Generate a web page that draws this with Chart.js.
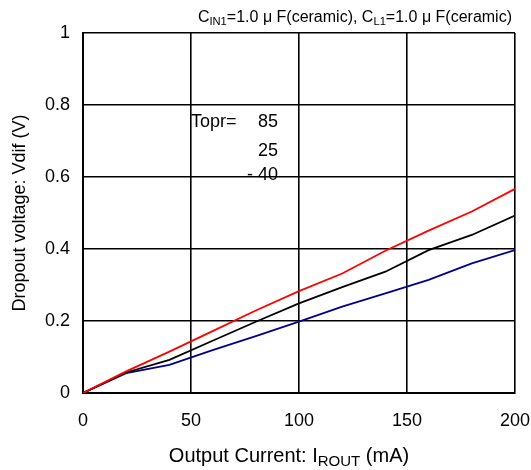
<!DOCTYPE html>
<html lang="en">
<head>
    <meta charset="UTF-8">
    <title>Dropout Voltage vs Output Current</title>
    <script src="https://cdn.jsdelivr.net/npm/chart.js"></script>
    <style>
        html, body { margin: 0; padding: 0; background: #fff; }
        #wrap { width: 531px; height: 470px; }
    </style>
</head>
<body>
<div id="wrap"><canvas id="dropoutChart" width="531" height="470"></canvas></div>
<script>
    // Output current (mA)
    const currents = [0, 20, 40, 60, 80, 100, 120, 140, 160, 180, 200];
    // Dropout voltage (V) per temperature
    const vdif85 = [0, 0.060, 0.115, 0.172, 0.229, 0.283, 0.332, 0.395, 0.451, 0.504, 0.567];
    const vdif25 = [0, 0.057, 0.092, 0.145, 0.198, 0.249, 0.294, 0.337, 0.397, 0.439, 0.493];
    const vdifM40 = [0, 0.055, 0.078, 0.119, 0.158, 0.198, 0.240, 0.277, 0.314, 0.360, 0.397];
    const xTicks = [0, 50, 100, 150, 200];
    const yTicks = [0, 0.2, 0.4, 0.6, 0.8, 1];

    const FONT = '"Liberation Sans", Arial, sans-serif';

    // draws text with subscripts: parts = [[text, isSub], ...]
    function drawRich(ctx, parts, x, y, size, align, subScale) {
        const sub = subScale || 0.7;
        let total = 0;
        parts.forEach(p => {
            ctx.font = (p[1] ? size * sub : size) + 'px ' + FONT;
            total += ctx.measureText(p[0]).width;
        });
        let cx = align === 'right' ? x - total : (align === 'center' ? x - total / 2 : x);
        ctx.textAlign = 'left';
        ctx.textBaseline = 'alphabetic';
        parts.forEach(p => {
            ctx.font = (p[1] ? size * sub : size) + 'px ' + FONT;
            ctx.fillText(p[0], cx, p[1] ? y + size * 0.2 : y);
            cx += ctx.measureText(p[0]).width;
        });
    }

    const textPlugin = {
        id: 'texts',
        afterDraw(chart) {
            const ctx = chart.ctx;
            ctx.save();
            ctx.fillStyle = '#000';
            drawRich(ctx, [['C', 0], ['IN1', 1], ['=1.0 \u03bc F(ceramic), C', 0], ['L1', 1], ['=1.0 \u03bc F(ceramic)', 0]], 512, 22, 16, 'right');
            drawRich(ctx, [['Output Current: I', 0], ['ROUT', 1], [' (mA)', 0]], 289, 462, 20, 'center', 0.75);
            ctx.translate(25, 213);
            ctx.rotate(-Math.PI / 2);
            drawRich(ctx, [['Dropout voltage: Vdif (V)', 0]], 0, 0, 18, 'center');
            ctx.restore();

            ctx.save();
            ctx.fillStyle = '#000';
            ctx.font = '18px ' + FONT;
            ctx.textBaseline = 'alphabetic';
            ctx.textAlign = 'left';
            ctx.fillText('Topr=', 191, 127);
            ctx.textAlign = 'right';
            ctx.fillText('85', 278, 127);
            ctx.fillText('25', 278, 156);
            ctx.fillText('- 40', 278, 180);
            ctx.restore();
        }
    };

    const lineStyle = { borderWidth: 1.8, pointRadius: 0, tension: 0, fill: false };

    new Chart(document.getElementById('dropoutChart'), {
        type: 'line',
        data: {
            datasets: [
                Object.assign({ label: '85', data: currents.map((c, i) => ({ x: c, y: vdif85[i] })), borderColor: '#ff0000' }, lineStyle),
                Object.assign({ label: '25', data: currents.map((c, i) => ({ x: c, y: vdif25[i] })), borderColor: '#000000' }, lineStyle),
                Object.assign({ label: '-40', data: currents.map((c, i) => ({ x: c, y: vdifM40[i] })), borderColor: '#00008b' }, lineStyle)
            ]
        },
        options: {
            responsive: false,
            animation: false,
            layout: { padding: { top: 33, right: 16, left: 0, bottom: 0 } },
            plugins: { legend: { display: false }, tooltip: { enabled: false } },
            scales: {
                x: {
                    type: 'linear',
                    min: 0, max: 200,
                    afterFit: s => { s.height = 77; s.paddingLeft = 0; s.paddingRight = 0; },
                    afterBuildTicks: s => { s.ticks = xTicks.map(v => ({ value: v })); },
                    grid: { color: '#000', lineWidth: 1.6, drawTicks: false },
                    border: { color: '#000', width: 2 },
                    ticks: { color: '#000', font: { size: 18, family: FONT }, padding: 17, maxRotation: 0 }
                },
                y: {
                    min: 0, max: 1,
                    afterFit: s => { s.width = 83; s.paddingTop = 0; s.paddingBottom = 0; },
                    afterBuildTicks: s => { s.ticks = yTicks.map(v => ({ value: v })); },
                    grid: { color: '#000', lineWidth: 1.6, drawTicks: false },
                    border: { color: '#000', width: 2 },
                    ticks: { color: '#000', font: { size: 18, family: FONT }, padding: 13, callback: v => String(v) }
                }
            }
        },
        plugins: [textPlugin]
    });
</script>
</body>
</html>
